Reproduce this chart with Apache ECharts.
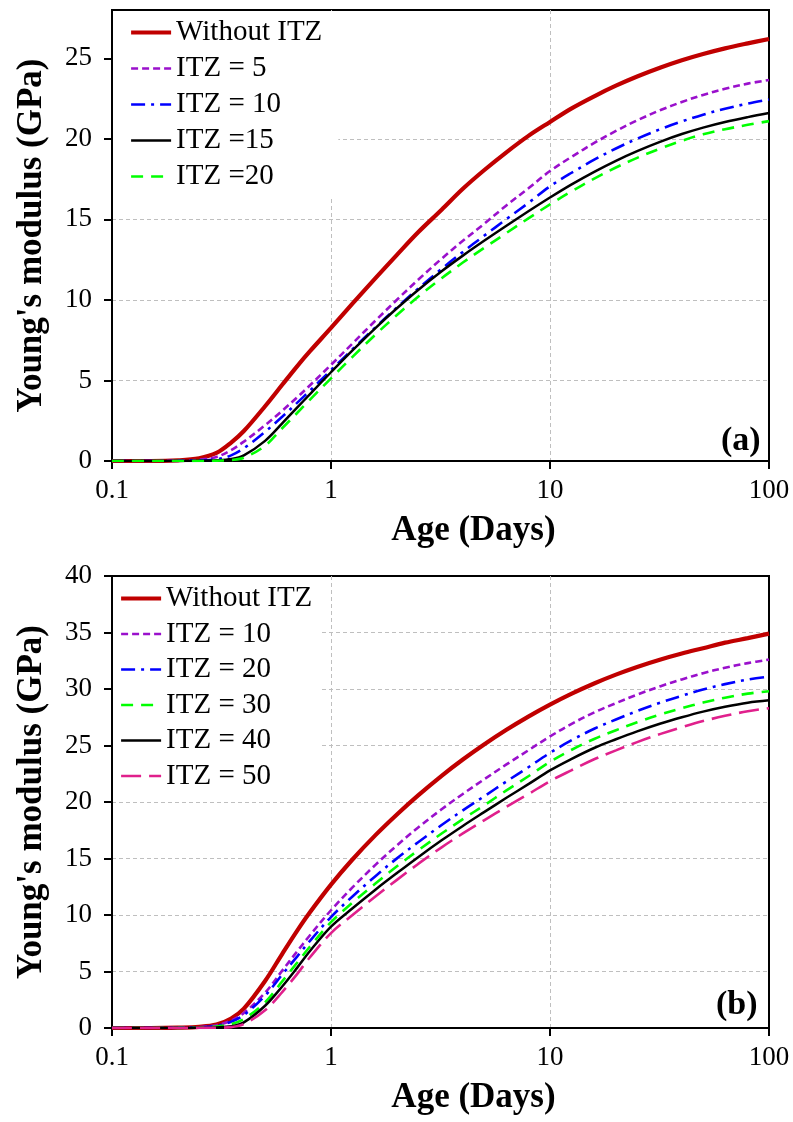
<!DOCTYPE html>
<html>
<head>
<meta charset="utf-8">
<script src="https://cdn.jsdelivr.net/npm/echarts@6/dist/echarts.min.js"></script>
<style>
html,body{margin:0;padding:0;background:#fff;}
#chart{width:793px;height:1122px;}
</style>
</head>
<body>
<div id="chart"></div>
<script>
// ---- data ----
const xDays = [0.1, 0.15, 0.2, 0.25, 0.3, 0.35, 0.4, 0.5, 0.6, 0.7, 0.8, 1, 1.25, 1.6, 2, 2.5, 3.2, 4, 5, 6.3, 8, 10, 12.5, 16, 20, 25, 32, 40, 50, 63, 80, 100];

// panel (a)
const aWithout = [0, 0, 0.04, 0.17, 0.5, 1.14, 1.86, 3.4, 4.75, 5.88, 6.8, 8.26, 9.75, 11.37, 12.8, 14.2, 15.6, 16.9, 18.05, 19.15, 20.2, 21.05, 21.88, 22.66, 23.3, 23.87, 24.43, 24.88, 25.27, 25.62, 25.93, 26.2];
const aITZ5    = [0, 0, 0.02, 0.08, 0.25, 0.68, 1.2, 2.22, 3.13, 3.95, 4.69, 5.97, 7.28, 8.73, 10.01, 11.25, 12.56, 13.67, 14.72, 15.85, 16.95, 18.0, 18.87, 19.76, 20.49, 21.15, 21.79, 22.29, 22.73, 23.11, 23.43, 23.65];
const aITZ10   = [0, 0, 0.01, 0.04, 0.1, 0.35, 0.79, 1.81, 2.76, 3.61, 4.36, 5.64, 6.92, 8.31, 9.53, 10.7, 11.93, 12.98, 13.98, 15.0, 16.04, 17.05, 17.88, 18.72, 19.4, 20.01, 20.61, 21.08, 21.5, 21.87, 22.19, 22.44];
const aITZ15   = [0, 0, 0, 0.01, 0.04, 0.12, 0.35, 1.25, 2.35, 3.31, 4.14, 5.51, 6.85, 8.27, 9.48, 10.62, 11.78, 12.75, 13.67, 14.59, 15.52, 16.36, 17.16, 17.97, 18.64, 19.24, 19.83, 20.3, 20.7, 21.05, 21.35, 21.6];
const aITZ20   = [0, 0, 0, 0, 0.02, 0.06, 0.2, 0.95, 2.05, 2.98, 3.8, 5.13, 6.45, 7.86, 9.06, 10.2, 11.35, 12.32, 13.23, 14.14, 15.08, 15.93, 16.73, 17.55, 18.22, 18.82, 19.41, 19.88, 20.28, 20.6, 20.87, 21.1];

// panel (b)
const bWithout = [0, 0, 0.03, 0.1, 0.3, 0.84, 1.71, 4.16, 6.59, 8.6, 10.22, 12.69, 14.89, 17.09, 18.9, 20.59, 22.32, 23.76, 25.09, 26.37, 27.58, 28.62, 29.57, 30.51, 31.27, 31.95, 32.61, 33.14, 33.61, 34.1, 34.5, 34.9];
const bITZ10   = [0, 0, 0.02, 0.08, 0.25, 0.65, 1.33, 3.12, 5.1, 6.77, 8.19, 10.42, 12.42, 14.46, 16.16, 17.74, 19.36, 20.71, 22.0, 23.3, 24.6, 25.8, 26.9, 27.95, 28.75, 29.5, 30.25, 30.85, 31.4, 31.88, 32.29, 32.6];
const bITZ20   = [0, 0, 0.01, 0.06, 0.2, 0.55, 1.15, 2.87, 4.75, 6.32, 7.69, 9.82, 11.62, 13.46, 15.01, 16.44, 17.96, 19.26, 20.5, 21.8, 23.1, 24.35, 25.45, 26.5, 27.3, 28.05, 28.8, 29.4, 29.95, 30.43, 30.84, 31.1];
const bITZ30   = [0, 0, 0.01, 0.04, 0.12, 0.35, 0.8, 2.27, 4.15, 5.77, 7.19, 9.37, 11.07, 12.81, 14.31, 15.72, 17.21, 18.48, 19.7, 21.0, 22.3, 23.55, 24.6, 25.6, 26.35, 27.05, 27.75, 28.3, 28.8, 29.23, 29.59, 29.8];
const bITZ40   = [0, 0, 0, 0.02, 0.05, 0.15, 0.5, 1.97, 3.7, 5.32, 6.79, 8.97, 10.57, 12.26, 13.71, 15.12, 16.61, 17.88, 19.1, 20.35, 21.6, 22.8, 23.8, 24.8, 25.55, 26.25, 26.95, 27.5, 28.0, 28.43, 28.79, 29.0];
const bITZ50   = [0, 0, 0, 0.01, 0.02, 0.08, 0.35, 1.57, 3.2, 4.77, 6.24, 8.4, 9.97, 11.66, 13.11, 14.52, 15.99, 17.22, 18.38, 19.55, 20.72, 21.85, 22.8, 23.8, 24.57, 25.3, 26.03, 26.62, 27.16, 27.63, 28.03, 28.3];

const aLabels = ['Without ITZ', 'ITZ = 5', 'ITZ = 10', 'ITZ =15', 'ITZ =20'];
const bLabels = ['Without ITZ', 'ITZ = 10', 'ITZ = 20', 'ITZ = 30', 'ITZ = 40', 'ITZ = 50'];
const aTicksY = [0, 5, 10, 15, 20, 25];
const bTicksY = [0, 5, 10, 15, 20, 25, 30, 35, 40];
const xTitle = 'Age (Days)';
const yTitle = "Young's modulus (GPa)";
const panelTags = ['(a)', '(b)'];

// ---- build ----
const FONT = "'Liberation Serif','Times New Roman',serif";
const pair = (ys) => xDays.map((x, i) => [x, ys[i]]);

const styles = {
  red:     { color: '#C00000', width: 4.2, type: 'solid' },
  purple:  { color: '#9A10CC', width: 2.6, type: [7, 4] },
  blue:    { color: '#0000FF', width: 2.6, type: [14, 6, 3, 6] },
  black:   { color: '#000000', width: 2.5, type: 'solid' },
  green:   { color: '#00FF00', width: 2.6, type: [12, 8] },
  magenta: { color: '#E0208C', width: 2.6, type: [20, 8] }
};

const aSeriesDefs = [
  ['a0', aWithout, styles.red],
  ['a1', aITZ5, styles.purple],
  ['a2', aITZ10, styles.blue],
  ['a3', aITZ15, styles.black],
  ['a4', aITZ20, styles.green]
];
const bSeriesDefs = [
  ['b0', bWithout, styles.red],
  ['b1', bITZ10, styles.purple],
  ['b2', bITZ20, styles.blue],
  ['b3', bITZ30, styles.green],
  ['b4', bITZ40, styles.black],
  ['b5', bITZ50, styles.magenta]
];
const nameMap = {};
aSeriesDefs.forEach((d, i) => nameMap[d[0]] = aLabels[i]);
bSeriesDefs.forEach((d, i) => nameMap[d[0]] = bLabels[i]);

function mkSeries(defs, idx) {
  return defs.map(([name, ys, st]) => ({
    name: name,
    type: 'line',
    xAxisIndex: idx,
    yAxisIndex: idx,
    data: pair(ys),
    smooth: 0.35,
    symbol: 'none',
    showSymbol: false,
    silent: true,
    animation: false,
    clip: true,
    itemStyle: { color: st.color },
    lineStyle: { color: st.color, width: st.width, type: st.type, cap: 'butt' }
  }));
}

const grids = [
  { left: 112, right: 24, top: 10, bottom: 661 },
  { left: 112, right: 24, top: 576, bottom: 94 }
];

function mkX(i) {
  return {
    type: 'log', logBase: 10, gridIndex: i, min: 0.1, max: 100,
    name: xTitle, nameLocation: 'middle', nameGap: 52,
    nameTextStyle: { fontFamily: FONT, fontSize: 35, fontWeight: 'bold', color: '#000', padding: [0, 0, 0, 66] },
    axisLine: { show: true, lineStyle: { color: '#000', width: 2 } },
    axisTick: { show: true, inside: false, length: 8, lineStyle: { color: '#000', width: 2 } },
    minorTick: { show: false },
    axisLabel: { fontFamily: FONT, fontSize: 27, color: '#000', margin: 16,
      formatter: v => String(+v.toPrecision(3)) },
    splitLine: { show: true, showMinLine: false, showMaxLine: false, lineStyle: { color: '#BFBFBF', width: 1, type: [4, 3] } }
  };
}
function mkY(i, max, ticks) {
  return {
    type: 'value', gridIndex: i, min: 0, max: max, interval: 5,
    name: yTitle, nameLocation: 'middle', nameGap: 63,
    nameTextStyle: { fontFamily: FONT, fontSize: 35, fontWeight: 'bold', color: '#000' },
    axisLine: { show: true, lineStyle: { color: '#000', width: 2 } },
    axisTick: { show: true, length: 8, lineStyle: { color: '#000', width: 2 }, customValues: ticks },
    axisLabel: { fontFamily: FONT, fontSize: 27, color: '#000', margin: 20, customValues: ticks },
    splitLine: { show: true, showMinLine: false, showMaxLine: false, lineStyle: { color: '#BFBFBF', width: 1, type: [4, 3] } }
  };
}

function mkLegend(defs, left, top, pad, gap) {
  return {
    show: true,
    orient: 'vertical',
    left: left, top: top,
    data: defs.map(d => ({
      name: d[0],
      lineStyle: { width: d[2].width, type: d[2].type, color: d[2].color, cap: 'butt' }
    })),
    formatter: n => nameMap[n],
    itemWidth: 40, itemHeight: 14,
    itemGap: gap,
    padding: pad,
    backgroundColor: '#ffffff',
    borderWidth: 0,
    selectedMode: false,
    itemStyle: { opacity: 0 },
    textStyle: { fontFamily: FONT, fontSize: 29, color: '#000', lineHeight: 28 }
  };
}

const option = {
  backgroundColor: '#ffffff',
  animation: false,
  grid: grids.map(g => Object.assign({ show: true, borderColor: '#000', borderWidth: 2, backgroundColor: 'transparent' }, g)),
  xAxis: [mkX(0), mkX(1)],
  yAxis: [mkY(0, 28, aTicksY), mkY(1, 40, bTicksY)],
  legend: [
    mkLegend(aSeriesDefs, 113, 11, [7, 16, 7, 16], 7),
    mkLegend(bSeriesDefs, 113, 577, [7, 9, 6, 6], 6.5)
  ],
  series: mkSeries(aSeriesDefs, 0).concat(mkSeries(bSeriesDefs, 1)),
  graphic: [
    { type: 'text', left: 721, top: 424, z: 10,
      style: { text: panelTags[0], fontFamily: FONT, fontSize: 34, fontWeight: 'bold', fill: '#000' } },
    { type: 'text', left: 716, top: 988, z: 10,
      style: { text: panelTags[1], fontFamily: FONT, fontSize: 34, fontWeight: 'bold', fill: '#000' } }
  ]
};

const chart = echarts.init(document.getElementById('chart'), null, { renderer: 'canvas', width: 793, height: 1122 });
chart.setOption(option);
</script>
</body>
</html>
